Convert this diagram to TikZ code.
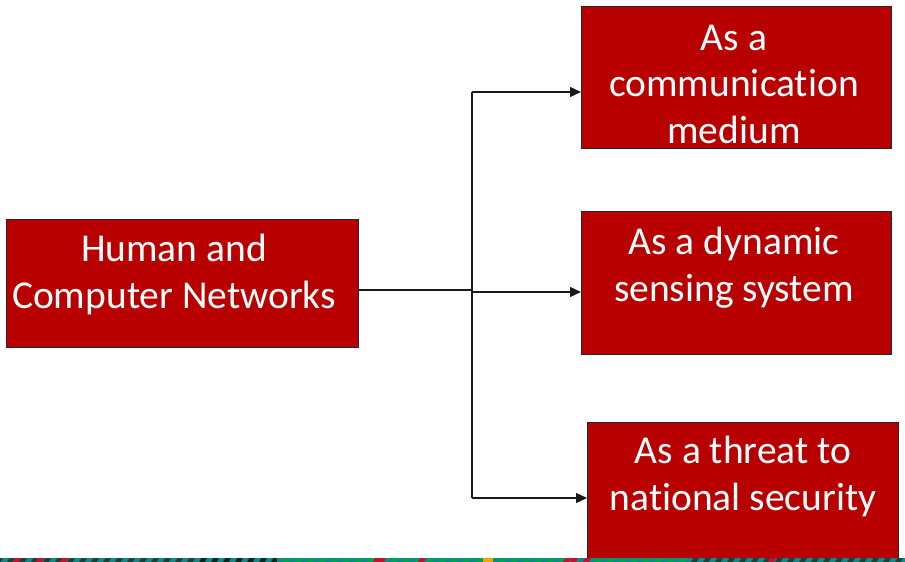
\documentclass[tikz,border=0pt]{standalone}
\usepackage{fontspec}
\setmainfont{Carlito}[Ligatures={NoCommon}]
\usetikzlibrary{arrows.meta}
\definecolor{boxred}{RGB}{185,0,0}
\definecolor{stripdark}{RGB}{35,64,56}
\definecolor{stripblack}{RGB}{12,38,30}
\definecolor{stripgreen}{RGB}{0,165,82}
\definecolor{stripteal}{RGB}{16,137,138}
\definecolor{stripred}{RGB}{200,16,46}
\definecolor{striporange}{RGB}{240,165,0}
\begin{document}
\begin{tikzpicture}[x=1pt,y=-1pt,
  box/.style={draw=black!85, line width=1.1pt, fill=boxred, inner sep=0pt,
              anchor=north west},
  boxtext/.style={text=white, align=center, inner sep=0pt, anchor=base,
              font=\fontsize{39.5}{46.5}\selectfont},
  link/.style={draw=black!90, line width=1.3pt},
  arr/.style={link, -{Triangle[length=11pt,width=10pt]}}]
\useasboundingbox (0,0) rectangle (905,562);
\fill[white] (0,0) rectangle (905,562);

% boxes
\node[box, minimum width=352pt, minimum height=128pt] (src) at (6,219) {};
\node[box, minimum width=310pt, minimum height=142pt] (comm) at (581,6) {};
\node[box, minimum width=310pt, minimum height=143pt] (sense) at (581,211) {};
\node[box, minimum width=311pt, minimum height=145pt] (threat) at (587,422) {};

% labels (anchored at the baseline of the last line)
\node[boxtext] (srcT) at (174,308) {Human and\\Computer Networks};
\node[boxtext] (commT) at (734,143) {As a\\communication\\medium};
\node[boxtext] (senseT) at (734,301) {As a dynamic\\sensing system};
\node[boxtext] (threatT) at (743,510) {As a threat to\\national security};

% connectors
\coordinate (jmid) at (472,290);
\coordinate (jtop) at (472,92);
\coordinate (jbot) at (472,498);
\coordinate (jin) at (472,292);
\draw[link] (src.east |- jmid) -- (jmid);
\draw[link] (jtop) -- (jbot);
\draw[arr] (jtop) -- (comm.west |- jtop);
\draw[arr] (jin) -- (sense.west |- jin);
\draw[arr] (jbot) -- (threat.west |- jbot);

% decorative strip along the lower edge
\fill[stripdark] (0,558) rectangle (200,562);
\fill[stripblack] (200,558) rectangle (277,562);
\fill[stripgreen] (277,558) rectangle (690,562);
\fill[stripdark] (690,558) rectangle (905,562);
\foreach \x in {0,12,...,900}
  \fill[stripteal] (\x+3,558) -- (\x+9,558) -- (\x+7,562) -- (\x+1,562);
\foreach \x in {15,38,62,375,380,420,565,572,585,770}
  \fill[stripred] (\x,558) -- (\x+6,558) -- (\x+4,562) -- (\x-2,562);
\fill[striporange] (483,558) rectangle (493,562);
\end{tikzpicture}
\end{document}
